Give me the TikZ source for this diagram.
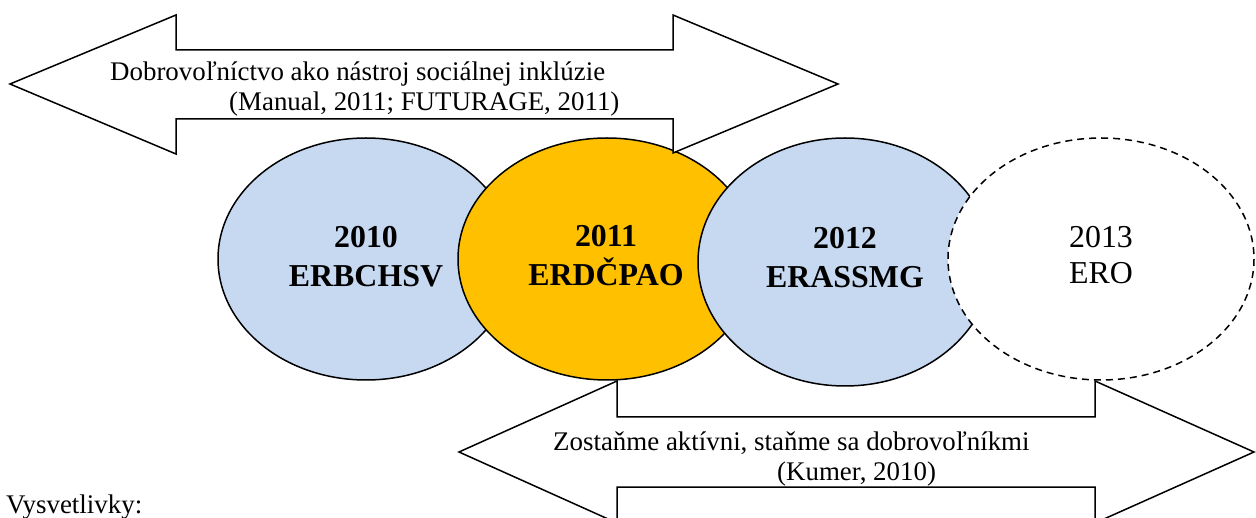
\documentclass[tikz,border=0pt]{standalone}
\usepackage{fontspec}
\setmainfont{Liberation Serif}
\definecolor{paleblue}{HTML}{C6D9F1}
\definecolor{amber}{HTML}{FFC000}
\tikzset{
  outline/.style={draw=black,line width=1.5bp},
  bigarrow/.style={outline,fill=white,line join=miter},
  smalltxt/.style={anchor=base west,inner sep=0pt,font=\fontsize{27}{27}\selectfont},
  yeartxt/.style={anchor=base,inner sep=0pt,font=\fontsize{32}{32}\selectfont},
  yearbold/.style={yeartxt,font=\fontsize{32}{32}\selectfont\bfseries},
}
\begin{document}
\begin{tikzpicture}[x=1bp,y=-1bp]
\useasboundingbox (0,0) rectangle (1256,518);
\clip (0,0) rectangle (1256,518);
% ellipses and arrows
\draw[outline,fill=paleblue] (366,259) ellipse [x radius=148,y radius=121];
\draw[bigarrow] (459,452) -- (617,381) -- (617,417) -- (1095,417) -- (1095,381) -- (1254,452) -- (1095,523) -- (1095,487) -- (617,487) -- (617,523) -- cycle;
\draw[outline,fill=amber] (607,259) ellipse [x radius=149,y radius=121];
\draw[bigarrow] (10,84) -- (176,15) -- (176,50) -- (673,50) -- (673,15) -- (838,84) -- (673,153) -- (673,119) -- (176,119) -- (176,154) -- cycle;
\draw[outline,fill=paleblue] (845,262) ellipse [x radius=147,y radius=124];
\fill[white] (1101,259) ellipse [x radius=153,y radius=121];
\draw[outline,dash pattern=on 7bp off 5bp] (1101,259) ellipse [x radius=153,y radius=121];
% texts
\node[smalltxt] (t1) at (110,81) {Dobrovoľníctvo ako nástroj sociálnej inklúzie};
\node[smalltxt] (t2) at (229,111) {(Manual, 2011; FUTURAGE, 2011)};
\node[smalltxt] (t3) at (553,450) {Zostaňme aktívni, staňme sa dobrovoľníkmi};
\node[smalltxt] (t4) at (777,480) {(Kumer, 2010)};
\node[smalltxt] (t5) at (6,513) {Vysvetlivky:};
\node[yearbold] (y1a) at (366,248) {2010};
\node[yearbold] (y1b) at (366,287) {ERBCHSV};
\node[yearbold] (y2a) at (606,247) {2011};
\node[yearbold] (y2b) at (606,286) {ERDČPAO};
\node[yearbold] (y3a) at (845,249) {2012};
\node[yearbold] (y3b) at (845,288) {ERASSMG};
\node[yeartxt] (y4a) at (1101,248) {2013};
\node[yeartxt] (y4b) at (1101,284) {ERO};
\end{tikzpicture}
\end{document}
